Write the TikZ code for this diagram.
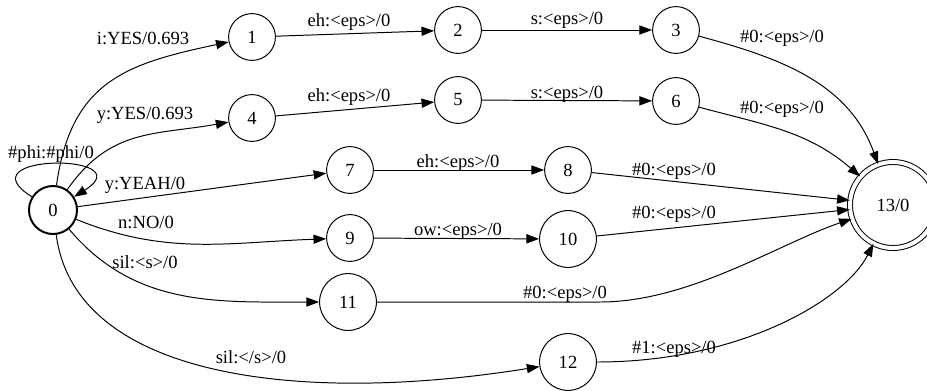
\documentclass[tikz,border=0pt]{standalone}
\usepackage{fontspec}
\setmainfont{Liberation Serif}
\usetikzlibrary{arrows.meta}
\tikzset{
  font=\fontsize{13.2}{15}\selectfont,
  % Set arrowhead
  >={Triangle[length=9pt, width=6.5pt]},
  % State node
  snode/.style={draw, fill=white, shape=circle, minimum size=1.17cm, inner
    sep=0pt},
  % Start state
  inode/.style={snode, minimum size=1.2cm, line width=1.4pt},
  % Wide state
  wnode/.style={snode, minimum size=1.42cm},
  % Final state
  fnode/.style={snode, double, double distance=2.8pt, minimum size=2.15cm},
  % Arcs
  tr/.style={->},
  % Arc labels
  lbl/.style={inner sep=0pt, text height=8.7pt, text depth=0pt},
}

\begin{document}
\begin{tikzpicture}[x=0.025cm, y=-0.025cm, line width=0.7pt]
      \useasboundingbox (0,0) rectangle (927,390);

      \node[inode] (s0) at (53,210) {0};
      \node[snode] (s1) at (252,37) {1};
      \node[snode] (s2) at (458,30) {2};
      \node[snode] (s3) at (676,30) {3};
      \node[snode] (s4) at (252,118) {4};
      \node[snode] (s5) at (458,100) {5};
      \node[snode] (s6) at (676,101) {6};
      \node[snode] (s7) at (350,170) {7};
      \node[snode] (s8) at (568,170) {8};
      \node[snode] (s9) at (350,238) {9};
      \node[wnode] (s10) at (568,239) {10};
      \node[wnode] (s11) at (348,302) {11};
      \node[wnode] (s12) at (568,362) {12};
      \node[fnode] (s13) at (893,205) {13/0};
      \coordinate (k11) at (600,302);

      \draw[tr] (s0) to[out=148, in=32, looseness=5] (s0);
      \draw[tr] (s0) to[out=82, in=192, looseness=1.2] (s1);
      \draw[tr] (s0) to[out=55, in=190, looseness=1.1] (s4);
      \draw[tr] (s0) -- (s7);
      \draw[tr] (s0) to[out=-22, in=182] (s9);
      \draw[tr] (s0) to[out=-50, in=180] (s11);
      \draw[tr] (s0) .. controls (75,378) and (300,405) .. (s12);
      \draw[tr] (s1) -- (s2);
      \draw[tr] (s2) -- (s3);
      \draw[tr] (s4) -- (s5);
      \draw[tr] (s5) -- (s6);
      \draw[tr] (s7) -- (s8);
      \draw[tr] (s9) -- (s10);
      \draw[tr] (s3) to[out=-15, in=110] (s13);
      \draw[tr] (s6) to[out=-15, in=139] (s13);
      \draw[tr] (s8) -- (s13);
      \draw[tr] (s10) -- (s13);
      \draw[tr] (s11) -- (k11) .. controls (690,302) and (780,243) .. (s13);
      \draw[tr] (s12) .. controls (740,362) and (845,300) .. (s13);

      \node[lbl] (l00) at (51,152) {\#phi:\#phi/0};
      \node[lbl] (l01) at (143,38) {i:YES/0.693};
      \node[lbl] (l04) at (145,113) {y:YES/0.693};
      \node[lbl] (l07) at (145,183) {y:YEAH/0};
      \node[lbl] (l09) at (146,222) {n:NO/0};
      \node[lbl] (l011) at (145,262) {sil:<s>/0};
      \node[lbl] (l012) at (251,357) {sil:</s>/0};
      \node[lbl] (l12) at (349,20) {eh:<eps>/0};
      \node[lbl] (l23) at (567,18) {s:<eps>/0};
      \node[lbl] (l45) at (349,95) {eh:<eps>/0};
      \node[lbl] (l56) at (567,92) {s:<eps>/0};
      \node[lbl] (l78) at (458,161) {eh:<eps>/0};
      \node[lbl] (l910) at (458,229) {ow:<eps>/0};
      \node[lbl] (l313) at (782,36) {\#0:<eps>/0};
      \node[lbl] (l613) at (782,107) {\#0:<eps>/0};
      \node[lbl] (l813) at (674,169) {\#0:<eps>/0};
      \node[lbl] (l1013) at (674,212) {\#0:<eps>/0};
      \node[lbl] (l1113) at (565,292) {\#0:<eps>/0};
      \node[lbl] (l1213) at (674,347) {\#1:<eps>/0};
    \end{tikzpicture}
\end{document}
